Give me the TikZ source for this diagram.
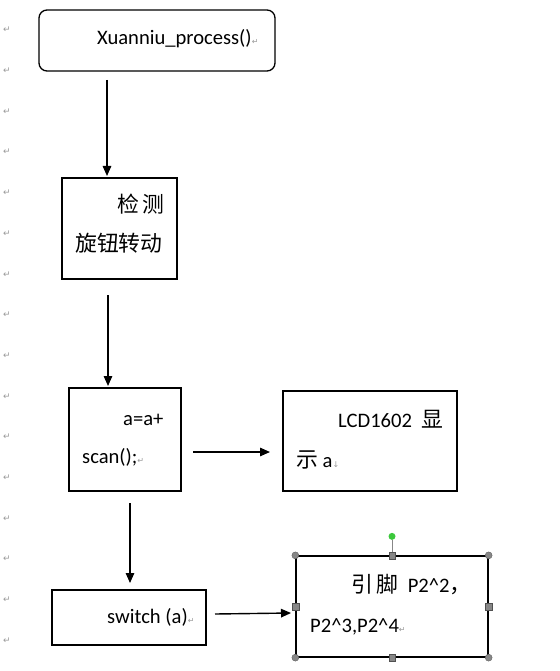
\documentclass[tikz,border=0pt]{standalone}
\usepackage{fontspec}
\setmainfont{Carlito}
\newfontfamily\cjk[Scale=1.06]{Noto Sans CJK SC}
\newfontfamily\symfont{DejaVu Sans}
\usetikzlibrary{arrows.meta}
\definecolor{handlegray}{RGB}{135,135,135}
\definecolor{handlegreen}{RGB}{60,200,60}
\newcommand{\retmark}{{\color{gray!80}\symfont\fontsize{8}{8}\selectfont ↵}}
\newcommand{\brkmark}{{\color{gray!80}\symfont\fontsize{8}{8}\selectfont ↓}}
\tikzset{
    base/.style={draw, line width=1.3pt, inner sep=0pt},
        proc/.style={base, rectangle},
        term/.style={proc, rounded corners=8pt},
        txt/.style={anchor=base west, inner sep=0pt,
                    font=\fontsize{20.6}{24}\selectfont},
        parmark/.style={text=gray!80, inner sep=0pt,
                        font=\symfont\fontsize{9}{9}\selectfont},
        myarrow/.style={-{Triangle[length=10pt,width=8.5pt]}, line width=1.4pt},
        handle/.style={fill=handlegray, draw=handlegray!60!black, line width=0.3pt},
 }

\begin{document}
\begin{tikzpicture}[x=1pt,y=-1pt]
    \useasboundingbox (0,0) rectangle (559,671);

    % paragraph marks down the left margin
    \foreach \i in {0,...,15}
        \node[parmark] (pm\i) at (7,{30+40.7*\i}) {↵};

    % boxes
    \node[term, minimum width=236pt, minimum height=61pt] (b1) at (157,40.5) {};
    \node[proc, minimum width=115pt, minimum height=101pt] (b2) at (119.5,228.5) {};
    \node[proc, minimum width=112pt, minimum height=103pt] (b3) at (125,439.5) {};
    \node[proc, minimum width=174pt, minimum height=100pt] (b4) at (370,441) {};
    \node[proc, minimum width=154pt, minimum height=55pt] (b5) at (129,617.5) {};
    \node[proc, minimum width=192pt, minimum height=101pt] (b6) at (392,606.5) {};

    % texts
    \node[txt] (t1) at (97,45) {Xuanniu\_process()\retmark};
    \node[txt] (t2a) at (117,212) {\cjk 检\,测};
    \node[txt] (t2b) at (75,251) {\cjk 旋钮转动};
    \node[txt] (t3a) at (123,425) {a=a+};
    \node[txt] (t3b) at (82,463) {scan();\retmark};
    \node[txt] (t4a) at (338,427) {LCD1602\ \ {\cjk 显}};
    \node[txt] (t4b) at (296,467) {{\cjk 示} a\brkmark};
    \node[txt] (t5) at (107,623) {switch (a)\retmark};
    \node[txt] (t6a) at (351,592) {{\cjk 引\,脚}\ \ P2\textasciicircum 2{\cjk ，}};
    \node[txt] (t6b) at (310,632) {P2\textasciicircum 3,P2\textasciicircum 4\retmark};

    % arrow ends
    \coordinate (a1s) at (107,80);
    \coordinate (a1e) at (107,176);
    \coordinate (a2s) at (108,295);
    \coordinate (a2e) at (108,386);
    \coordinate (a3s) at (193,452);
    \coordinate (a3e) at (270,452);
    \coordinate (a4s) at (130,503);
    \coordinate (a4e) at (130,583);
    \coordinate (a5s) at (215,614);
    \coordinate (a5e) at (291,613);

    \draw[myarrow] (a1s) -- (a1e);
    \draw[myarrow] (a2s) -- (a2e);
    \draw[myarrow] (a3s) -- (a3e);
    \draw[myarrow] (a4s) -- (a4e);
    \draw[myarrow] (a5s) -- (a5e);

    % selection handles on the last box
    \draw[handlegray, line width=0.6pt] (b6.north) -- ++(0,-15);
    \fill[handlegreen] ([yshift=19pt]b6.north) circle (3.5pt);
    \foreach \c in {north west, north east, south west, south east}
        \draw[handle] (b6.\c) circle (3.5pt);
    \foreach \c in {north, south, west, east}
        \draw[handle] ([xshift=-3.3pt,yshift=-3.3pt]b6.\c) rectangle ++(6.6pt,6.6pt);

\end{tikzpicture}
\end{document}
